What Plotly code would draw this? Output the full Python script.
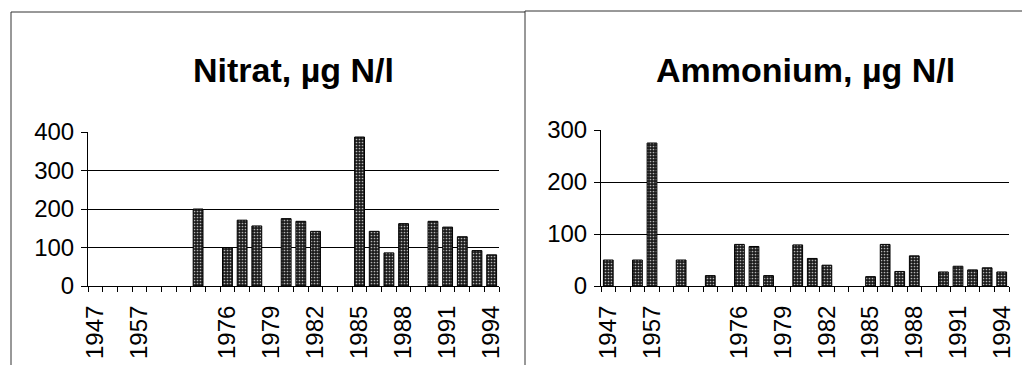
import plotly.graph_objects as go

W, H = 1022, 365

categories = ["1947", "", "", "1957", "", "", "", "", "",
              "1976", "1977", "1978", "1979", "1980", "1981", "1982", "1983", "1984",
              "1985", "1986", "1987", "1988", "1989", "1990", "1991", "1992", "1993", "1994"]

nitrat = [None, None, None, None, None, None, None, 200, None,
          100, 171, 156, None, 175, 168, 142, None, None,
          387, 142, 86, 162, None, 168, 153, 128, 92, 81]

ammonium = [50, None, 50, 275, None, 50, None, 20, None,
            80, 76, 20, None, 79, 53, 40, None, None,
            18, 80, 28, 58, None, 27, 38, 31, 35, 27]

nitrat_ticks = [0, 100, 200, 300, 400]
ammonium_ticks = [0, 100, 200, 300]

titles = ["Nitrat, µg N/l", "Ammonium, µg N/l"]

FONT = "Liberation Sans, Arial, sans-serif"

def px_x(x):
    return x / W

def px_y(y):
    return (H - y) / H

xpos = list(range(len(categories)))
label_pos = xpos[::3]
label_txt = categories[::3]
bounds = [i - 0.5 for i in range(len(categories) + 1)]

bar_marker = dict(
    color="#1c1c1c",
    line=dict(color="black", width=1),
    pattern=dict(shape=".", fgcolor="#b5b5b5", bgcolor="#1c1c1c", size=3, solidity=0.25, fillmode="replace"),
)

fig = go.Figure()
fig.add_trace(go.Bar(x=xpos, y=nitrat, marker=bar_marker, xaxis="x", yaxis="y", showlegend=False))
fig.add_trace(go.Bar(x=xpos, y=ammonium, marker=bar_marker, xaxis="x2", yaxis="y2", showlegend=False))

def xaxis_cfg(domain, anchor):
    return dict(
        domain=domain, anchor=anchor, range=[-0.5, len(categories) - 0.5],
        tickmode="array", tickvals=label_pos, ticktext=label_txt, tickangle=-90,
        ticks="", showgrid=False, zeroline=False, automargin=False,
        ticklabelstandoff=9,
        showline=True, linecolor="black", linewidth=1,
        tickfont=dict(family=FONT, size=24, color="black"),
        minor=dict(tickmode="array", tickvals=bounds, ticks="outside", ticklen=5,
                   tickcolor="black", tickwidth=1, showgrid=False),
        fixedrange=True,
    )

def yaxis_cfg(domain, anchor, ticks):
    return dict(
        domain=domain, anchor=anchor, range=[0, ticks[-1]],
        tickmode="array", tickvals=ticks, ticks="outside", ticklen=6,
        tickcolor="black", showgrid=True, gridcolor="black", gridwidth=1,
        zeroline=False, showline=True, linecolor="black", linewidth=1,
        automargin=False, ticklabelstandoff=2,
        tickfont=dict(family=FONT, size=24, color="black"),
        fixedrange=True,
    )

left_x = [px_x(88), px_x(499)]
right_x = [px_x(601), px_x(1009)]

fig.update_layout(
    template="none",
    width=W, height=H, autosize=False,
    margin=dict(l=0, r=0, t=0, b=0, pad=0),
    paper_bgcolor="white", plot_bgcolor="white",
    bargap=0.33,
    xaxis=xaxis_cfg(left_x, "y"),
    yaxis=yaxis_cfg([px_y(286), px_y(132)], "x", nitrat_ticks),
    xaxis2=xaxis_cfg(right_x, "y2"),
    yaxis2=yaxis_cfg([px_y(286), px_y(130)], "x2", ammonium_ticks),
)

for title, xd in zip(titles, [left_x, right_x]):
    fig.add_annotation(
        text=f"<b>{title}</b>", xref="paper", yref="paper",
        x=(xd[0] + xd[1]) / 2, y=px_y(70), xanchor="center", yanchor="middle",
        showarrow=False, font=dict(family=FONT, size=34, color="black"),
    )

border = dict(color="#333333", width=1)
fig.add_shape(type="line", xref="paper", yref="paper", x0=px_x(11), x1=px_x(525), y0=px_y(12), y1=px_y(12), line=border)
fig.add_shape(type="line", xref="paper", yref="paper", x0=px_x(525), x1=1, y0=px_y(11), y1=px_y(11), line=border)
fig.add_shape(type="line", xref="paper", yref="paper", x0=px_x(11), x1=px_x(11), y0=px_y(12), y1=0, line=border)
fig.add_shape(type="line", xref="paper", yref="paper", x0=px_x(525), x1=px_x(525), y0=px_y(11), y1=0, line=border)

fig.write_html(
    "out.html",
    config={"displayModeBar": False},
    post_script="document.body.style.margin='0';document.body.style.overflow='hidden';",
)
